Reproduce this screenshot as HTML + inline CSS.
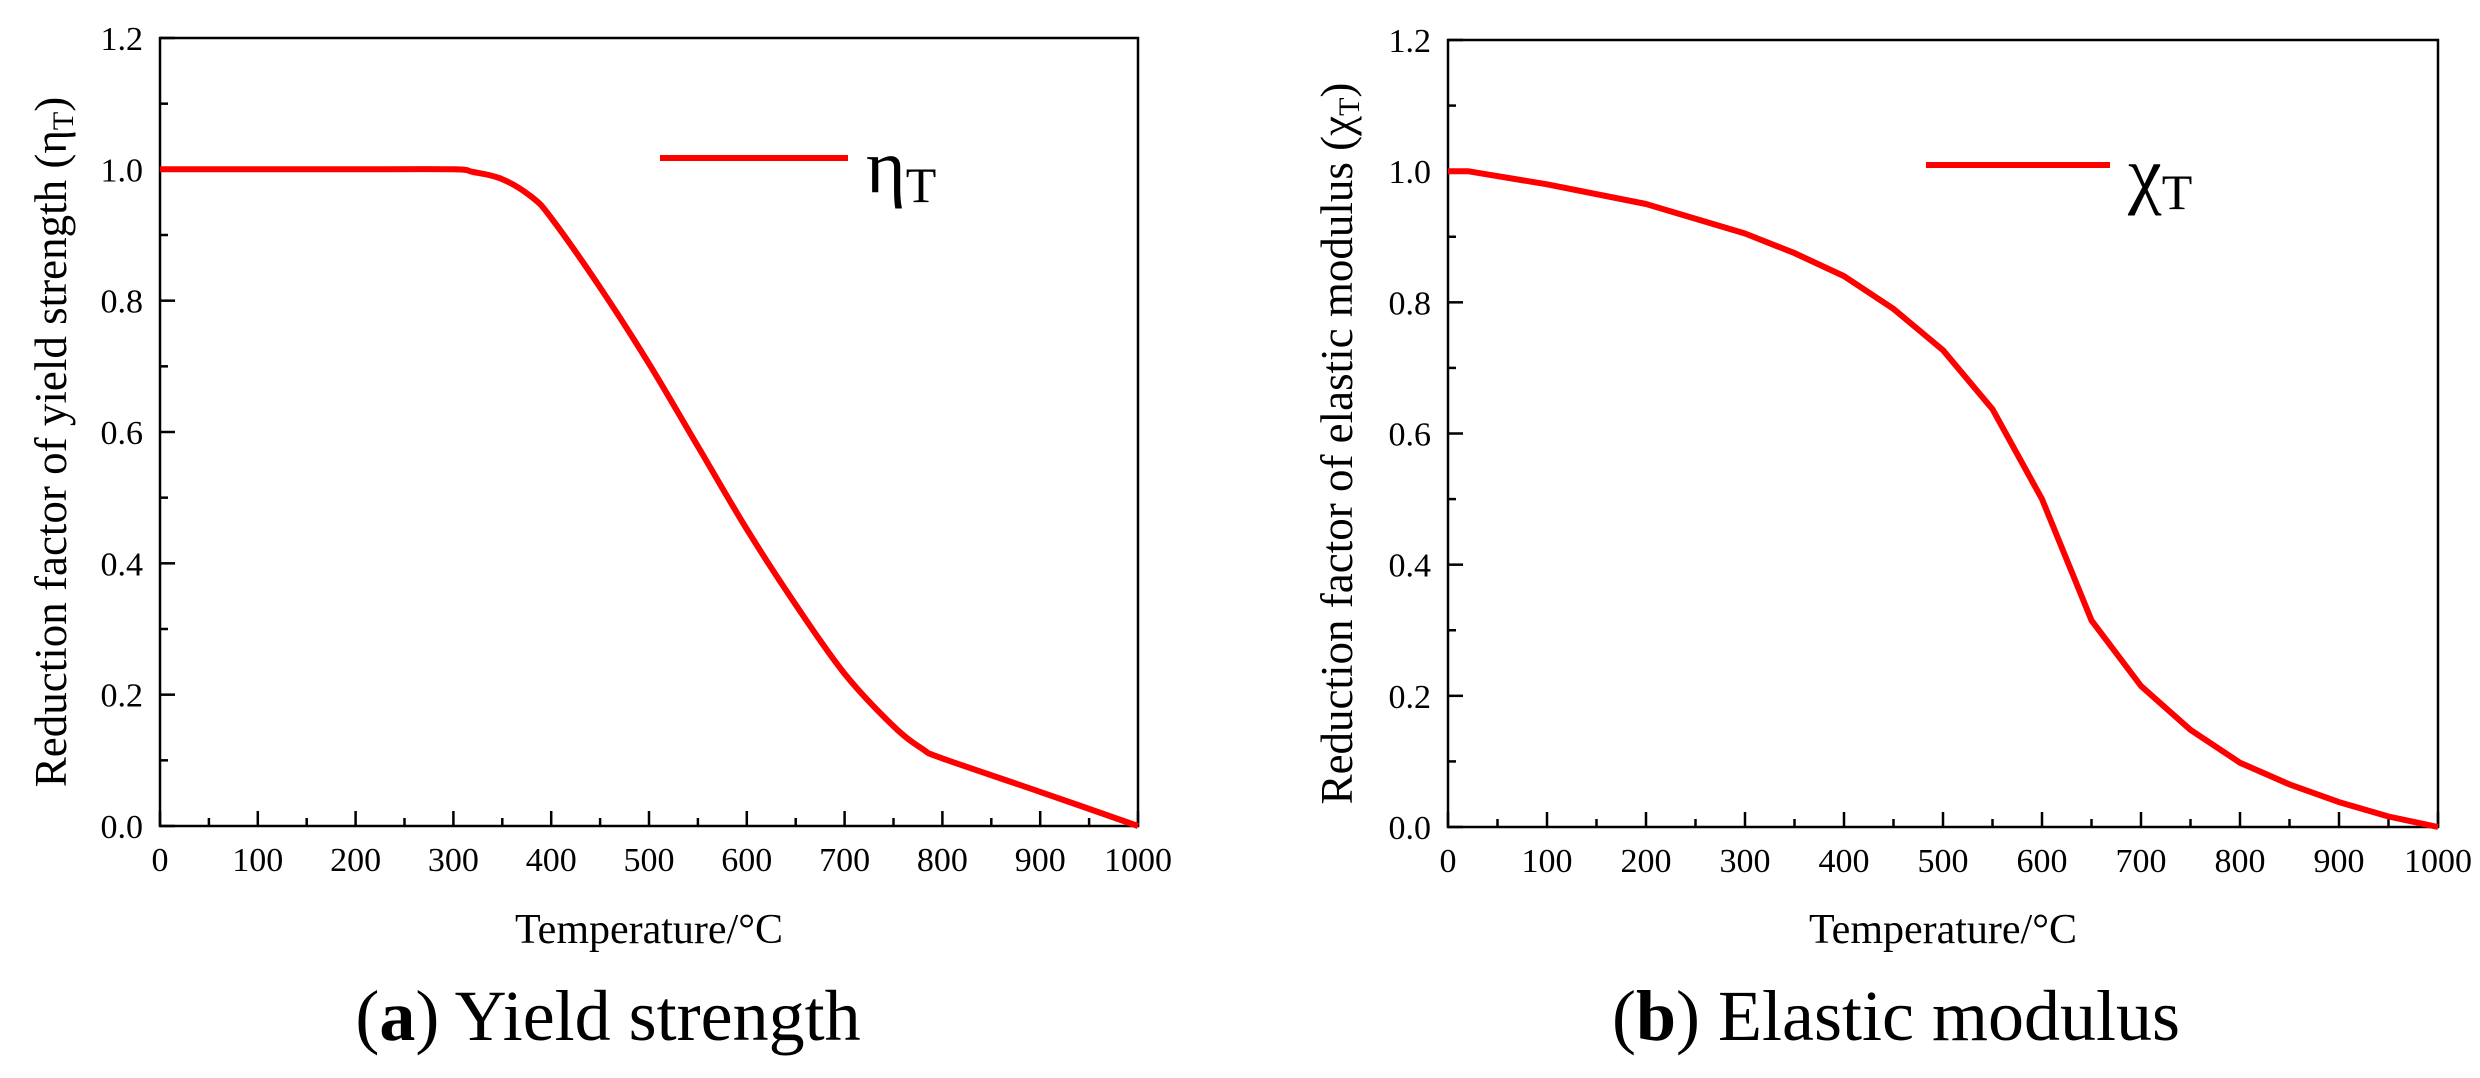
<!DOCTYPE html>
<html><head><meta charset="utf-8"><style>
html,body{margin:0;padding:0;background:#fff;}
svg{display:block;font-family:"Liberation Serif",serif;}
</style></head><body>
<svg id="fig" width="2480" height="1078" viewBox="0 0 2480 1078" xmlns="http://www.w3.org/2000/svg">
<text x="608" y="1040" font-size="72" text-anchor="middle">(<tspan font-weight="bold">a</tspan>) Yield strength</text>
<text x="1896" y="1040" font-size="72" text-anchor="middle">(<tspan font-weight="bold">b</tspan>) Elastic modulus</text>
</svg>
<script>
const xTicks = [0,100,200,300,400,500,600,700,800,900,1000];
const yTicks = [0.0,0.2,0.4,0.6,0.8,1.0,1.2];
const tempA = [0,100,200,300,320,350,380,400,450,500,550,600,650,700,750,780,800,900,1000];
const etaT  = [1,1,1,1,0.996,0.985,0.958,0.926,0.82,0.704,0.578,0.452,0.337,0.232,0.152,0.117,0.103,0.052,0];
const tempB = [0,20,100,200,300,350,400,450,500,550,600,650,700,750,800,850,900,950,1000];
const chiT  = [1,1,0.98,0.95,0.905,0.875,0.84,0.79,0.727,0.637,0.5,0.315,0.215,0.148,0.098,0.065,0.038,0.016,0];

const NS = "http://www.w3.org/2000/svg";
const svg = document.getElementById('fig');
function mk(tag, attrs, parent){ const e=document.createElementNS(NS,tag); for(const k in attrs) e.setAttribute(k,attrs[k]); (parent||svg).appendChild(e); return e; }

function smoothPath(P){
  let d='M'+P[0][0].toFixed(1)+','+P[0][1].toFixed(1);
  for(let i=0;i<P.length-1;i++){
    const p0=P[Math.max(0,i-1)],p1=P[i],p2=P[i+1],p3=P[Math.min(P.length-1,i+2)];
    const c1=[p1[0]+(p2[0]-p0[0])/6,p1[1]+(p2[1]-p0[1])/6];
    const c2=[p2[0]-(p3[0]-p1[0])/6,p2[1]-(p3[1]-p1[1])/6];
    d+=' C'+c1[0].toFixed(1)+','+c1[1].toFixed(1)+' '+c2[0].toFixed(1)+','+c2[1].toFixed(1)+' '+p2[0].toFixed(1)+','+p2[1].toFixed(1);
  }
  return d;
}

function chart(cfg){
  const g = mk('g',{});
  
  
  const L=cfg.L,R=cfg.R,T=cfg.T,B=cfg.B;
  const sx=v=>L+(v-0)/1000*(R-L);
  const sy=v=>B-(v/1.2)*(B-T);
  const frame = mk('rect',{x:L,y:T,width:R-L,height:B-T,fill:'none',stroke:'#000','stroke-width':2.5},g);
  
  
  for(let i=0;i<xTicks.length;i++){
    const v=xTicks[i], x=sx(v);
    const tk = mk('line',{x1:x,x2:x,y1:B,y2:B-15,stroke:'#000','stroke-width':2.5},g);
    
    
    if(i<xTicks.length-1){ const xm=sx(v+50); mk('line',{x1:xm,x2:xm,y1:B,y2:B-8,stroke:'#000','stroke-width':2.5},g); }
    const t = mk('text',{x:x,y:B+45,'font-size':34,'text-anchor':'middle'},g);
    t.textContent=String(v);
    
    
  }
  for(let i=0;i<yTicks.length;i++){
    const v=yTicks[i], y=sy(v);
    const tk = mk('line',{x1:L,x2:L+15,y1:y,y2:y,stroke:'#000','stroke-width':2.5},g);
    
    
    if(i<yTicks.length-1){ const ym=sy(v+0.1); mk('line',{x1:L,x2:L+8,y1:ym,y2:ym,stroke:'#000','stroke-width':2.5},g); }
    const t = mk('text',{x:L-17,y:y+12,'font-size':34,'text-anchor':'end'},g);
    t.textContent=v.toFixed(1);
    
    
  }
  const xt = mk('text',{x:(L+R)/2,y:943,'font-size':42,'text-anchor':'middle'},g);
  xt.textContent='Temperature/°C';
  
  
  const cy=(T+B)/2+10;
  const yt = mk('text',{x:cfg.yLabelX,y:cy,'font-size':45,'text-anchor':'middle',transform:`rotate(-90 ${cfg.yLabelX} ${cy})`},g);
  yt.innerHTML = cfg.ylabel+' (<tspan>'+cfg.sym+'</tspan><tspan font-size="30" dy="7">T</tspan><tspan dy="-7">)</tspan>';
  
  
  const P = cfg.xs.map((x,i)=>[sx(x),sy(cfg.ys[i])]);
  let pl;
  if(cfg.smooth){ pl = mk('path',{d:smoothPath(P),fill:'none',stroke:'#ff0000','stroke-width':6,'stroke-linejoin':'round'},g); }
  else { pl = mk('polyline',{points:P.map(p=>p[0].toFixed(1)+','+p[1].toFixed(1)).join(' '),fill:'none',stroke:'#ff0000','stroke-width':6,'stroke-linejoin':'round'},g); }
  
  
  const lg = mk('g',{},g);
  
  
  mk('line',{x1:cfg.legX1,x2:cfg.legX2,y1:cfg.legY,y2:cfg.legY,stroke:'#ff0000','stroke-width':6},lg);
  const lt = mk('text',{x:cfg.legX2+18,y:cfg.legY+34,'font-size':76},lg);
  lt.innerHTML = cfg.sym+'<tspan font-size="50" dy="10">T</tspan>';
}
chart({id:'yield-strength-chart',smooth:true,L:160,R:1138,T:38,B:826,yLabelX:66,ylabel:'Reduction factor of yield strength',sym:'η',xs:tempA,ys:etaT,legX1:660,legX2:848,legY:158});
chart({id:'elastic-modulus-chart',smooth:false,L:1448,R:2438,T:40,B:827,yLabelX:1352,ylabel:'Reduction factor of elastic modulus',sym:'χ',xs:tempB,ys:chiT,legX1:1926,legX2:2110,legY:165});
</script>
</body></html>
